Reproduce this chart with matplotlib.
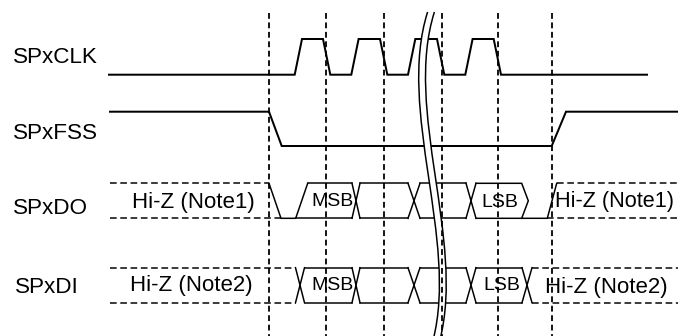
import numpy as np
import matplotlib.pyplot as plt
from matplotlib.path import Path
from matplotlib.patches import PathPatch

plt.rcParams['font.family'] = ['Liberation Sans', 'DejaVu Sans']
plt.rcParams['lines.scale_dashes'] = False

# ---- timing data (time axis in px-like units) ----
signals    = ['SPxCLK', 'SPxFSS', 'SPxDO', 'SPxDI']
lane_low   = [74.7, 146.0, 218.3, 302.7]     # level "0" of each lane
lane_high  = [39.0, 111.7, 183.3, 267.7]     # level "1" of each lane
label_base = [63.3, 139.3, 214.3, 292.7]

t_begin, t_end = 110, 678
guides = [269, 326, 384, 442, 498, 552]

clk_rise = [294.7, 351.3, 408.0, 465.3]
clk_fall = [323.0, 380.0, 437.0, 493.7]
clk_slew = 7.3
clk_stop = 647

fss_fall, fss_fall_end = 269, 281.7
fss_rise, fss_rise_end = 551.7, 566

# SPxDO: hi-z -> driven low -> bits -> low -> hi-z
do_hiz_end, do_low_at = 269, 281
do_data_start, do_slew = 295.7, 12
do_cross = [356, 414, 471]
do_cross_w = [4, 6, 5]
do_lsb_end, do_lsb_tip = 521.7, 528.3
do_release, do_release_end = 547.3, 556.7
do_bits = ['MSB', 'LSB']
do_bits_x = [311.7, 481.7]
do_bits_base = [206.5, 207]

# SPxDI: hi-z -> bits -> hi-z
di_cross = [300, 356, 414, 471, 527]
di_cross_w = [4.5, 4, 6, 5, 5]
di_bits = ['MSB', 'LSB']
di_bits_x = [311, 483.3]
di_bits_base = [290, 290.5]

hiz_texts = ['Hi-Z (Note1)', 'Hi-Z (Note1)', 'Hi-Z (Note2)', 'Hi-Z (Note2)']
hiz_x = [131.7, 555, 130, 544.7]
hiz_base = [207.7, 207.5, 291.5, 292.5]
hiz_size = [16, 15.6, 16, 16]

LW_CLK = 2.0 * 0.72
LW_BUS = 1.5 * 0.72
DASH_H = (0, (4.8, 2.6))
DASH_V = (0, (4.2, 2.6))
FS_LABEL = 16.2
FS_BIT = 14

fig = plt.figure(figsize=(6.78, 3.36), dpi=100)
ax = fig.add_axes([0, 0, 1, 1])
ax.set_xlim(0, 678)
ax.set_ylim(336, 0)
ax.axis('off')

# ---- labels ----
for i, name in enumerate(signals):
    ax.text(13.3 if i < 3 else 15, label_base[i], name, fontsize=FS_LABEL,
            va='baseline', ha='left')

# ---- SPxCLK ----
lo, hi = lane_low[0], lane_high[0]
xs, ys = [109], [lo]
for r, f in zip(clk_rise, clk_fall):
    xs += [r, r + clk_slew, f, f + clk_slew]
    ys += [lo, hi, hi, lo]
xs.append(clk_stop)
ys.append(lo)
ax.plot(xs, ys, color='black', lw=LW_CLK, zorder=2, solid_joinstyle='miter')

# ---- SPxFSS ----
lo, hi = lane_low[1], lane_high[1]
ax.plot([t_begin, fss_fall, fss_fall_end, fss_rise, fss_rise_end, t_end],
        [hi, hi, lo, lo, hi, hi], color='black', lw=LW_CLK, zorder=2,
        solid_joinstyle='miter')

# ---- SPxDO ----
lo, hi = lane_low[2], lane_high[2]
mid = (lo + hi) / 2
ax.plot([t_begin, do_hiz_end], [hi, hi], color='black', lw=LW_BUS, ls=DASH_H)
ax.plot([t_begin, do_low_at], [lo, lo], color='black', lw=LW_BUS, ls=DASH_H)
ax.plot([do_hiz_end, do_low_at, do_data_start, do_data_start + do_slew],
        [hi, lo, lo, hi], color='black', lw=LW_BUS)
prev_top, prev_bot = do_data_start + do_slew, do_data_start
for c, w in zip(do_cross, do_cross_w):
    ax.plot([prev_top, c - w], [hi, hi], color='black', lw=LW_BUS)
    ax.plot([prev_bot, c - w], [lo, lo], color='black', lw=LW_BUS)
    ax.plot([c - w, c + w], [hi, lo], color='black', lw=LW_BUS)
    ax.plot([c - w, c + w], [lo, hi], color='black', lw=LW_BUS)
    prev_top, prev_bot = c + w, c + w
ax.plot([prev_top, do_lsb_end, do_lsb_tip, do_lsb_end],
        [hi, hi, mid, lo], color='black', lw=LW_BUS)
ax.plot([prev_bot, do_release, do_release_end], [lo, lo, hi],
        color='black', lw=LW_BUS)
ax.plot([do_release_end, t_end], [hi, hi], color='black', lw=LW_BUS, ls=DASH_H)
ax.plot([do_release, t_end], [lo, lo], color='black', lw=LW_BUS, ls=DASH_H)
for b, bx, by in zip(do_bits, do_bits_x, do_bits_base):
    ax.text(bx, by, b, fontsize=FS_BIT, va='baseline', ha='left')

# ---- SPxDI ----
lo, hi = lane_low[3], lane_high[3]
c0, w0 = di_cross[0], di_cross_w[0]
cl, wl = di_cross[-1], di_cross_w[-1]
ax.plot([t_begin, c0 - w0], [hi, hi], color='black', lw=LW_BUS, ls=DASH_H)
ax.plot([t_begin, c0 - w0], [lo, lo], color='black', lw=LW_BUS, ls=DASH_H)
prev = None
for c, w in zip(di_cross, di_cross_w):
    if prev is not None:
        ax.plot([prev, c - w], [hi, hi], color='black', lw=LW_BUS)
        ax.plot([prev, c - w], [lo, lo], color='black', lw=LW_BUS)
    ax.plot([c - w, c + w], [hi, lo], color='black', lw=LW_BUS)
    ax.plot([c - w, c + w], [lo, hi], color='black', lw=LW_BUS)
    prev = c + w
ax.plot([cl + wl, t_end], [hi, hi], color='black', lw=LW_BUS, ls=DASH_H)
ax.plot([cl + wl, t_end], [lo, lo], color='black', lw=LW_BUS, ls=DASH_H)
for b, bx, by in zip(di_bits, di_bits_x, di_bits_base):
    ax.text(bx, by, b, fontsize=FS_BIT, va='baseline', ha='left')

# ---- Hi-Z notes ----
for t, x, y, s in zip(hiz_texts, hiz_x, hiz_base, hiz_size):
    ax.text(x, y, t, fontsize=s, va='baseline', ha='left')

# ---- time break (double S curve) ----
brk = np.array([[431, 12], [400, 110], [462, 240], [436.5, 340]])
gap = 3.4
left = brk - [gap, 0]
right = brk + [gap, 0]
fill_verts = list(left) + list(right[::-1]) + [left[0]]
fill_codes = [Path.MOVETO, Path.CURVE4, Path.CURVE4, Path.CURVE4,
              Path.LINETO, Path.CURVE4, Path.CURVE4, Path.CURVE4, Path.CLOSEPOLY]
ax.add_patch(PathPatch(Path(fill_verts, fill_codes), facecolor='white',
                       edgecolor='none', zorder=4))
for side in (left, right):
    p = Path(side, [Path.MOVETO, Path.CURVE4, Path.CURVE4, Path.CURVE4])
    ax.add_patch(PathPatch(p, facecolor='none', edgecolor='black',
                           lw=LW_BUS, zorder=6))

# ---- guide lines ----
for g in guides:
    ax.plot([g, g], [12.7, 336], color='black', lw=1.8 * 0.72, ls=DASH_V,
            zorder=5)

fig.savefig('out.png', dpi=100)
